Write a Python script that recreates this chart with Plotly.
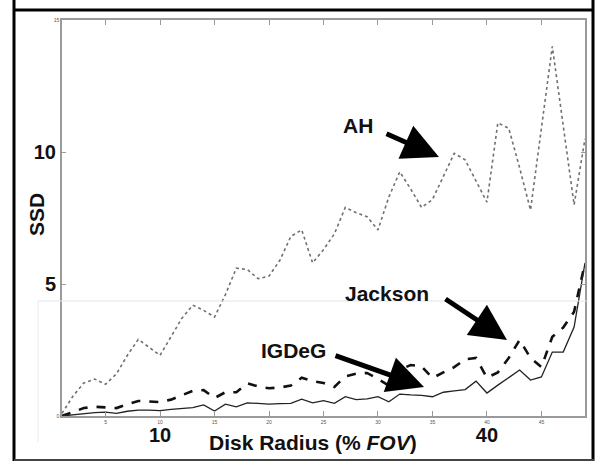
import plotly.graph_objects as go

# ---- data ----
radius = list(range(1, 50))
ah = [0.1, 0.75, 1.25, 1.4, 1.2, 1.6, 2.3, 2.9, 2.6, 2.3,
      3.0, 3.7, 4.2, 4.0, 3.75, 4.6, 5.6, 5.55, 5.2, 5.3,
      5.9, 6.8, 7.05, 5.8, 6.3, 6.9, 7.9, 7.7, 7.55, 7.05,
      8.3, 9.25, 8.6, 7.9, 8.2, 9.1, 9.95, 9.7, 8.9, 8.1,
      11.1, 10.9, 9.4, 7.8, 10.9, 14.0, 11.0, 8.0, 10.5]
jackson = [0.0, 0.15, 0.3, 0.35, 0.33, 0.3, 0.45, 0.57, 0.55, 0.53,
           0.62, 0.8, 0.95, 0.98, 0.68, 0.9, 0.9, 1.24, 1.12, 1.05,
           1.08, 1.15, 1.45, 1.32, 1.25, 1.1, 1.5, 1.6, 1.63, 1.4,
           1.15, 1.75, 1.93, 1.88, 1.44, 1.65, 1.85, 2.15, 2.2, 1.45,
           1.65, 2.2, 2.88, 2.2, 1.85, 3.0, 3.35, 3.95, 5.8]
igdeg = [0.0, 0.05, 0.1, 0.13, 0.15, 0.1, 0.18, 0.22, 0.22, 0.2,
         0.25, 0.28, 0.32, 0.42, 0.19, 0.45, 0.35, 0.5, 0.47, 0.45,
         0.47, 0.48, 0.64, 0.5, 0.58, 0.48, 0.73, 0.62, 0.65, 0.73,
         0.54, 0.83, 0.8, 0.78, 0.73, 0.9, 0.95, 1.0, 1.32, 0.87,
         1.17, 1.45, 1.74, 1.36, 1.48, 2.42, 2.42, 3.37, 5.8]

x_small_ticks = [5, 10, 15, 20, 25, 30, 35, 40, 45]
x_small_labels = ["5", "10", "15", "20", "25", "30", "35", "40", "45"]
x_big_ticks = [10, 40]
y_ticks = [0, 5, 10, 15]
y_small_labels = ["0", "", "", "15"]
y_big_ticks = [5, 10]

# ---- layout geometry ----
W, H = 597, 461
ML, MR, MT, MB = 62, 12, 20, 45
PW, PH = W - ML - MR, H - MT - MB


def px(xp):
    return (xp - ML) / PW


def py(yp):
    return (H - MB - yp) / PH


FONT = "Liberation Sans, Arial, sans-serif"
AXC = "#9a9a9a"

fig = go.Figure()
fig.add_trace(go.Scatter(x=radius, y=ah, mode="lines", name="AH",
                         line=dict(color="#707070", width=1.6, dash="dot")))
fig.add_trace(go.Scatter(x=radius, y=jackson, mode="lines", name="Jackson",
                         line=dict(color="#111111", width=2.6, dash="dash")))
fig.add_trace(go.Scatter(x=radius, y=igdeg, mode="lines", name="IGDeG",
                         line=dict(color="#222222", width=1.3)))

fig.update_layout(
    width=W, height=H,
    margin=dict(l=ML, r=MR, t=MT, b=MB),
    paper_bgcolor="white", plot_bgcolor="white",
    showlegend=False,
    font=dict(family=FONT, color="#111"),
    xaxis=dict(range=[1, 49], tickvals=x_small_ticks, ticktext=x_small_labels,
               tickfont=dict(size=5, color="#555"), ticks="inside", ticklen=5,
               tickcolor=AXC, showline=True, linecolor=AXC, linewidth=1.5,
               mirror="ticks", showgrid=False, zeroline=False, automargin=False),
    yaxis=dict(range=[0, 15], tickvals=y_ticks, ticktext=y_small_labels,
               tickfont=dict(size=5, color="#555"), ticks="inside", ticklen=4,
               tickcolor=AXC, showline=True, linecolor=AXC, linewidth=1.5,
               mirror="ticks", showgrid=False, zeroline=False, automargin=False),
    xaxis2=dict(overlaying="x", matches="x", anchor="y", side="bottom",
                tickvals=x_big_ticks, ticktext=["<b>%d</b>" % v for v in x_big_ticks],
                tickfont=dict(size=20, color="#111", family=FONT), ticks="",
                showline=False, showgrid=False, zeroline=False,
                ticklabelstandoff=5, automargin=False),
    yaxis2=dict(overlaying="y", matches="y", anchor="x", side="left",
                tickvals=y_big_ticks, ticktext=["<b>%d</b>" % v for v in y_big_ticks],
                tickfont=dict(size=20, color="#111", family=FONT), ticks="",
                showline=False, showgrid=False, zeroline=False,
                ticklabelstandoff=5, automargin=False),
)
# invisible trace to activate the overlay axes
fig.add_trace(go.Scatter(x=[radius[0]], y=[ah[0]], xaxis="x2", yaxis="y2",
                         mode="markers", marker=dict(opacity=0), hoverinfo="skip"))

CM = dict(xanchor="center", yanchor="middle", showarrow=False)
# axis titles
fig.add_annotation(text="<b>Disk Radius (% <i>FOV</i>)</b>", xref="paper", yref="paper",
                   x=px(313), y=py(442), font=dict(size=21, family=FONT, color="#111"), **CM)
fig.add_annotation(text="<b>SSD</b>", xref="paper", yref="paper", textangle=-90,
                   x=px(36), y=py(215), font=dict(size=21, family=FONT, color="#111"), **CM)

# series labels
labels = [("AH", 358, 126), ("Jackson", 387, 293), ("IGDeG", 293, 350)]
for t, xp, yp in labels:
    fig.add_annotation(text="<b>%s</b>" % t, xref="paper", yref="paper",
                       x=px(xp), y=py(yp), font=dict(size=21, family=FONT, color="#111"), **CM)

# arrows (tip, tail in pixels)
arrows = [((439, 157), (385, 133)), ((507, 340), (444, 298)), ((424, 387), (334, 355))]
for (tx, ty), (sx, sy) in arrows:
    fig.add_annotation(x=px(tx), y=py(ty), xref="paper", yref="paper",
                       ax=sx - tx, ay=sy - ty, text="", showarrow=True,
                       arrowhead=2, arrowsize=1.45, arrowwidth=5,
                       arrowcolor="#000", standoff=0)

# frame and faint compositing lines
shapes = [
    dict(type="line", x0=px(14), x1=px(14), y0=py(0), y1=py(461), line=dict(color="#000", width=3)),
    dict(type="line", x0=px(14), x1=px(594), y0=py(10), y1=py(10), line=dict(color="#000", width=3)),
    dict(type="line", x0=px(593), x1=px(593), y0=py(0), y1=py(461), line=dict(color="#000", width=3)),
    dict(type="line", x0=px(14), x1=px(594), y0=py(460), y1=py(460), line=dict(color="#444", width=2)),
    dict(type="line", x0=px(38), x1=px(588), y0=py(301), y1=py(301), line=dict(color="#e4e4e4", width=1)),
    dict(type="line", x0=px(38), x1=px(38), y0=py(301), y1=py(442), line=dict(color="#ececec", width=1)),
]
for s in shapes:
    fig.add_shape(xref="paper", yref="paper", layer="above", **s)

fig.write_html("out.html", config={"displayModeBar": False},
               post_script="document.body.style.margin='0px';document.body.style.overflow='hidden';")
